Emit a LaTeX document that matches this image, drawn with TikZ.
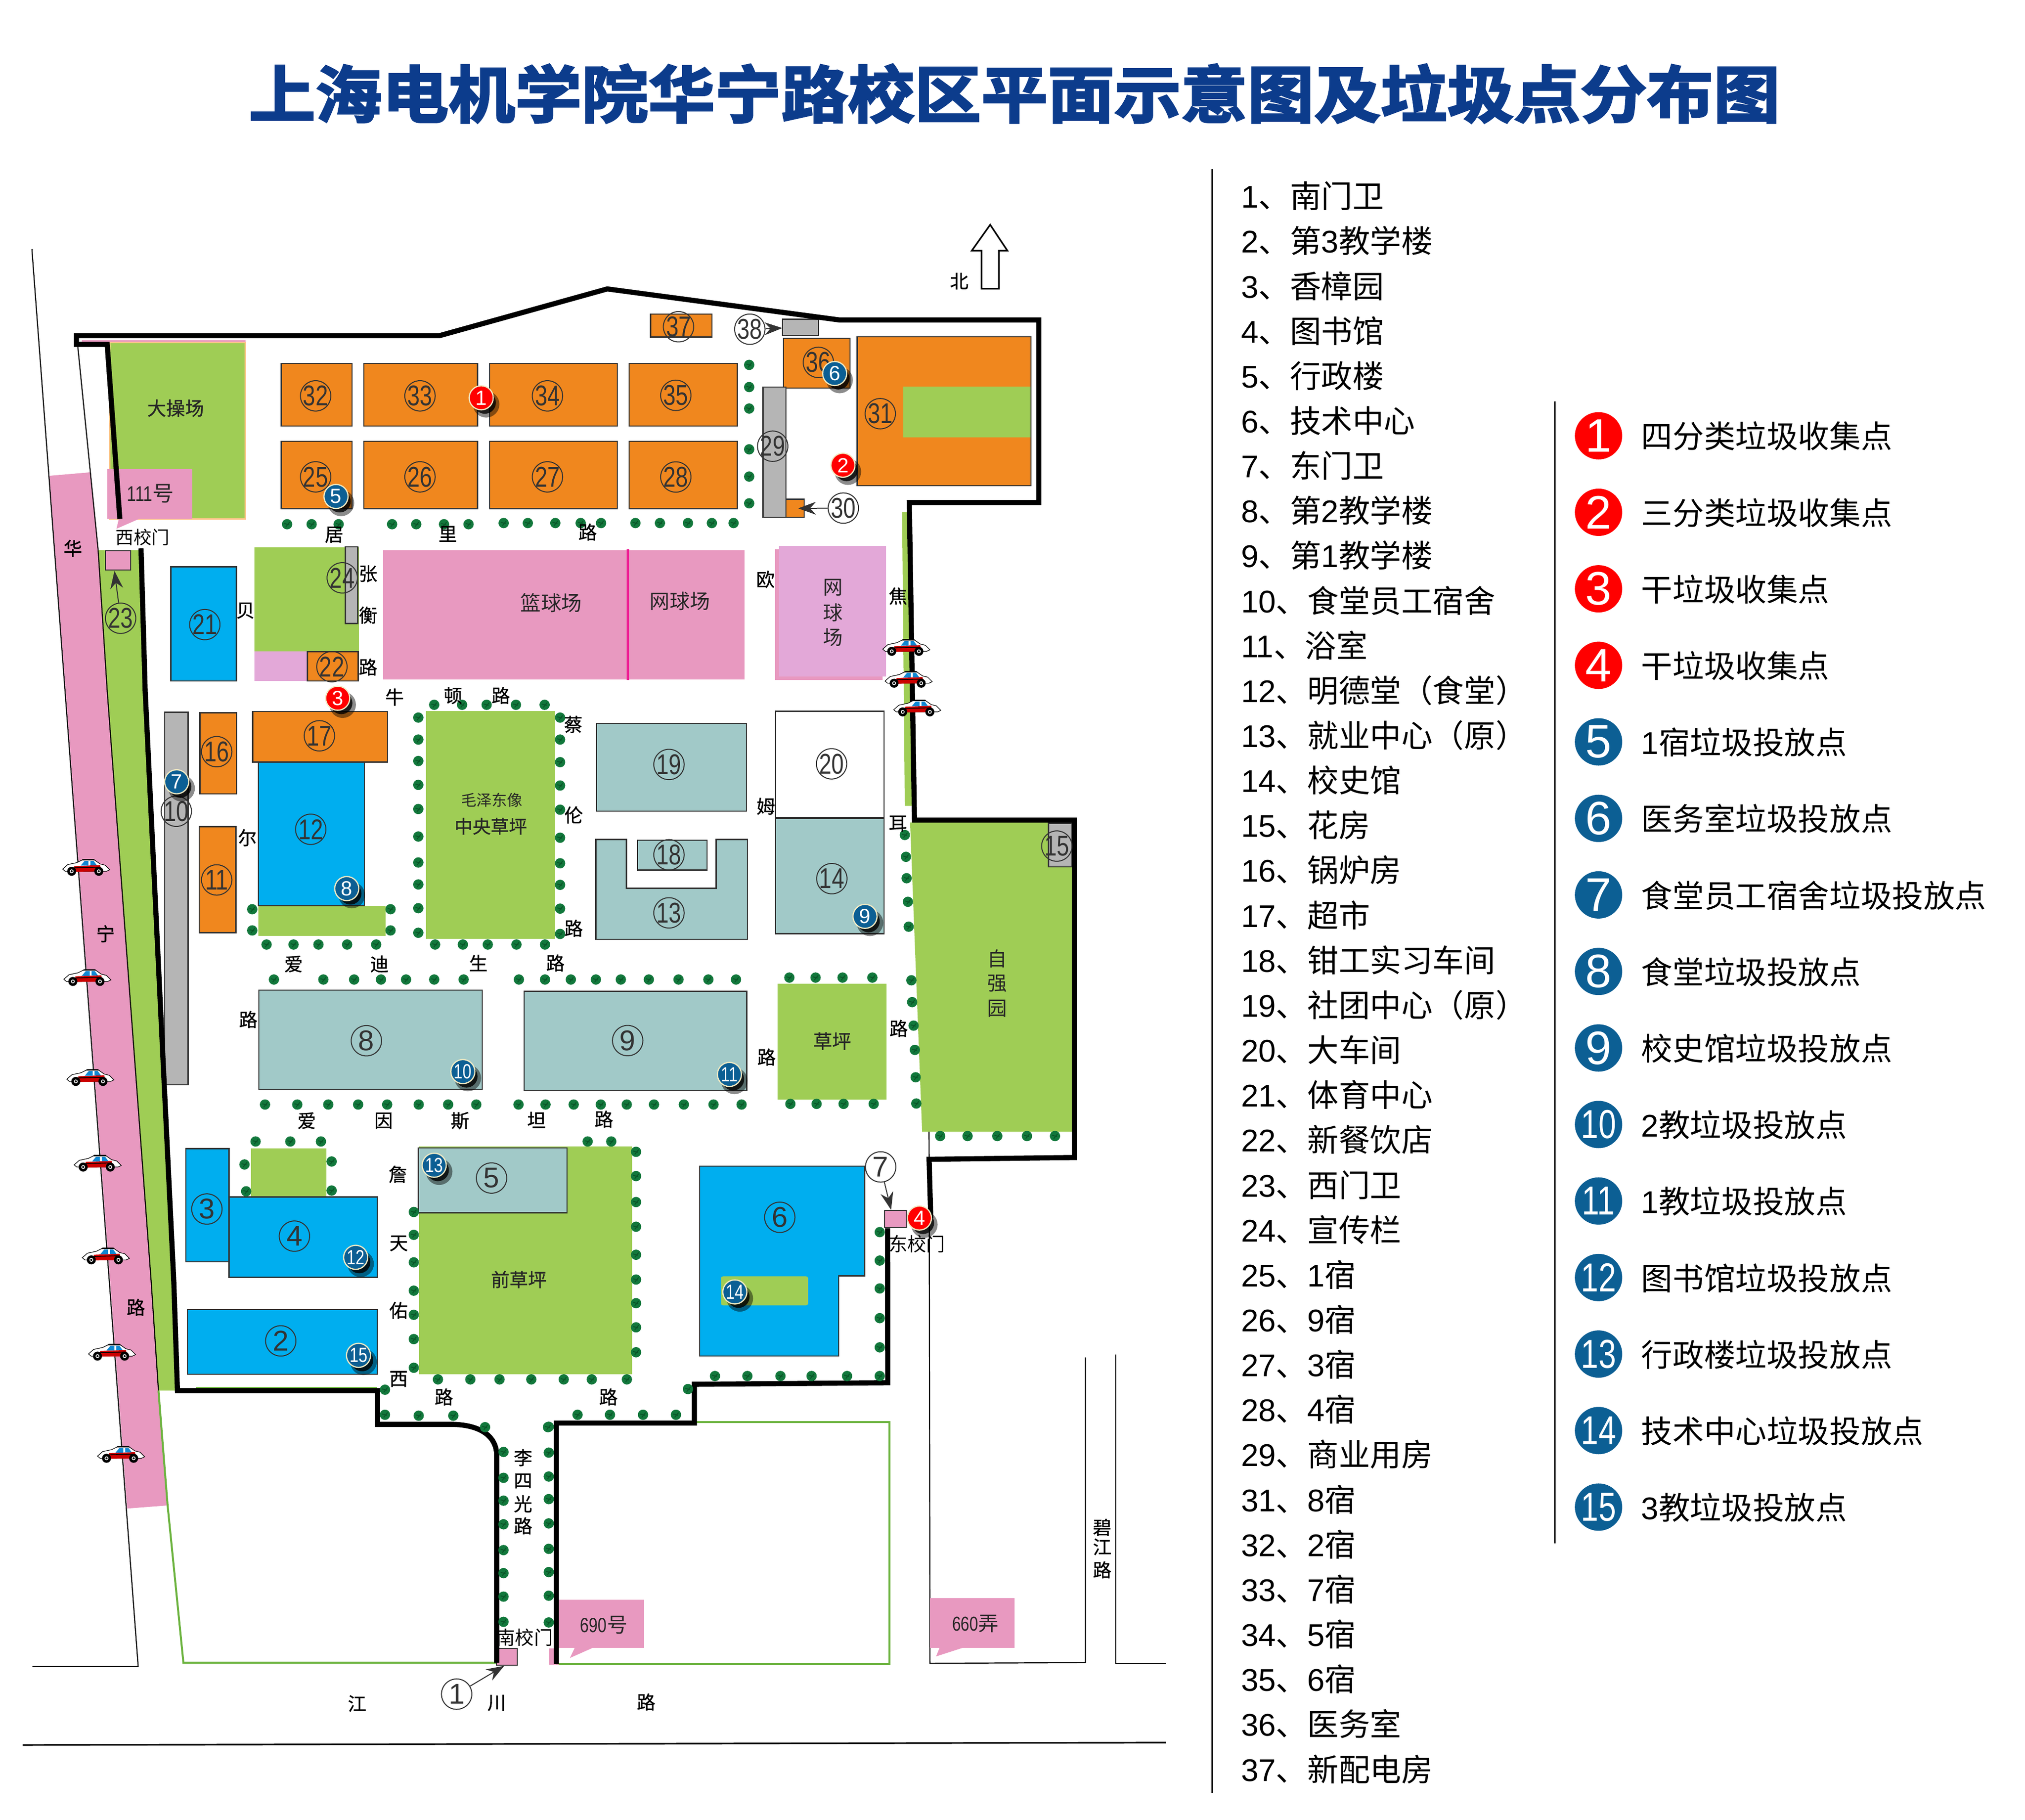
\documentclass[tikz,border=0pt]{standalone}
\usepackage{fontspec}
\usetikzlibrary{arrows.meta,shadows}
\setmainfont{Liberation Sans}
\newfontfamily\cjk{Noto Sans CJK SC}
\newfontfamily\roadfont[FakeBold=0.8]{Noto Sans CJK SC}
\newfontfamily\titlefont[FakeBold=3,FakeStretch=1.075]{Noto Sans CJK SC Bold}
\newfontfamily\latfont{Liberation Sans}
\newfontfamily\narrowfont[FakeStretch=0.78]{Liberation Sans}
\newcommand{\fs}[1]{\fontsize{#1}{#1}\selectfont}
\newcommand{\dg}[1]{{\latfont #1}}
\definecolor{orangeb}{HTML}{F0871E}
\definecolor{blueb}{HTML}{00AEEF}
\definecolor{lawn}{HTML}{9FCD55}
\definecolor{tealb}{HTML}{A1C9C8}
\definecolor{pinkb}{HTML}{E899C0}
\definecolor{lilac}{HTML}{E3A8D8}
\definecolor{grayb}{HTML}{B5B5B5}
\definecolor{edge}{HTML}{333333}
\definecolor{markblue}{HTML}{0C5F94}
\definecolor{cream}{HTML}{F2EBC4}
\definecolor{treeg}{HTML}{12783C}
\definecolor{treed}{HTML}{0A5528}
\definecolor{fence}{HTML}{6CB33F}
\definecolor{titleblue}{HTML}{0C3C8C}
\tikzset{
	orangeblock/.style={fill=orangeb,draw=edge,line width=.6pt},
	blueblock/.style={fill=blueb,draw=edge,line width=.6pt},
	tealblock/.style={fill=tealb,draw=edge,line width=.6pt},
	grayblock/.style={fill=grayb,draw=edge,line width=.6pt},
	wall/.style={line width=2.6pt,line join=miter},
	thinline/.style={line width=.55pt},
	fenceline/.style={draw=fence,line width=1pt},
	num/.style={circle,draw=edge,line width=.5pt,minimum size=15.4pt,inner sep=-3pt,text=edge,font=\latfont\fs{14.5pt}},
	numm/.style={num,font=\narrowfont\fs{14.5pt}},
	numw/.style={fill=white},
	bluedot/.style={circle,fill=markblue,draw=cream,line width=.6pt,minimum size=12.2pt,inner sep=-3pt,text=white,font=\latfont\fs{10.4pt},
		general shadow={fill=black,opacity=.45,shadow xshift=2.3pt,shadow yshift=-3pt,shadow scale=1.1},
		general shadow={fill=black,opacity=.8,shadow xshift=2pt,shadow yshift=-2.7pt,shadow scale=.92}},
	bluedott/.style={bluedot,font=\narrowfont\fs{10.4pt}},
	reddot/.style={bluedot,fill=red},
	lgdot/.style={circle,minimum size=24pt,inner sep=-4pt,text=white,font=\latfont\fs{23.8pt}},
	lgdott/.style={lgdot,font=\narrowfont\fs{20.5pt}},
	road/.style={inner sep=0pt,font=\roadfont\fs{9.4pt}},
	place/.style={inner sep=0pt,font=\cjk\fs{9.6pt},text=black!85},
	listitem/.style={anchor=base west,inner sep=0pt,font=\cjk\fs{15.9pt}},
	pointer/.style={draw=edge,line width=.5pt,-{Stealth[length=9pt,width=6.5pt]}},
	car/.pic={
		\draw[fill=white,line width=.3pt] (-18,1.5) -- (-14,-2) -- (-7,-3.5) -- (-2,-6) -- (6,-6) -- (11,-2.5) -- (15,-1.5) -- (18.5,2) -- (16,3.2) -- (-16,3.2) -- cycle;
		\fill[red!80!black] (-9,-.8) -- (11,-1.6) -- (12,3.3) -- (-10,3.6) -- cycle;
		\fill[black] (-9,.2) -- (11,-.3) -- (11,.3) -- (-9,.8) -- cycle;
		\fill[black] (-2.6,-6.2) -- (6.4,-6.2) -- (7.2,-5.2) -- (-3.4,-5.2) -- cycle;
		\fill[cyan!70!blue] (-4,-1.2) -- (-1,-4.8) -- (2,-4.8) -- (2,-1.2) -- cycle;
		\fill[cyan!70!blue] (3.5,-4.8) -- (6,-4.8) -- (8.5,-1.4) -- (3.5,-1.4) -- cycle;
		\foreach \wx in {-11,10} {
			\fill[black] (\wx,3.2) circle (3.5);
			\fill[white] (\wx,3.2) circle (1.5);
			\fill[black] (\wx,3.2) circle (.8);
		}
	},
}
\newcommand{\treeat}[2]{\fill[treeg] (#1,#2) circle (4); \draw[treed,line width=.45pt] (#1-2.2,#2-.6) -- (#1+1.6,#2+.4) (#1-1,#2+2) -- (#1+2,#2-1.7);}
\begin{document}
\begin{tikzpicture}[x=0.6548pt,y=-0.6548pt]
\useasboundingbox (0,0) rectangle (1568,1409);

\node[inner sep=0pt,text=titleblue,font=\titlefont\fs{31.4pt}] (title) at (785.5,72.5) {上海电机学院华宁路校区平面示意图及垃圾点分布图};

% roads outside the campus
\fill[pinkb] (38.3,368.4) -- (69.7,365.7) -- (76,426) -- (83,534.6) -- (117.1,992.8) -- (122.7,1076.7) -- (129.8,1165.6) -- (98.5,1168) -- cycle;
\fill[lawn] (76,426) -- (108.5,426) -- (112.4,534.6) -- (134.6,992.8) -- (137.4,1076.7) -- (122.7,1076.7) -- (117.1,992.8) -- (83,534.6) -- cycle;
\draw[thinline] (24.7,192.9) -- (107,1290.3) -- (25.1,1290.3);
\draw[thinline] (60.2,267.9) -- (76,426) -- (83,534.6) -- (117.1,992.8) -- (122.7,1076.7);
\draw[fenceline] (122.7,1076.7) -- (129.8,1165.6) -- (142,1287.3) -- (384.6,1287.3);
\draw[fenceline] (430.8,1288.5) -- (688.6,1288.5) -- (688.6,1101) -- (537.7,1101);
\draw[fenceline,line width=.5pt] (152,1074.5) -- (292,1074.5);
\draw[thinline] (719.4,876) -- (720.1,1287.8) -- (840.5,1287.3) -- (840.5,1051);
\draw[thinline] (863.9,1048.7) -- (863.9,1288) -- (903,1288);
\draw[thinline,line width=.8pt] (17.5,1351.1) -- (903,1349.2);

% north arrow
\draw[line width=.8pt] (760,223.5) -- (773.5,223.5) -- (773.5,194) -- (780,194) -- (766.7,174) -- (752.5,194) -- (760,194) -- cycle;

% lawns and courts
\fill[pinkb] (63.3,263.3) rectangle (190,266);
\draw[fill=lawn,draw=orange!45!white,line width=.6pt] (84.9,265.2) rectangle (190,401.8);
\fill[pinkb] (83,363) -- (148.8,363) -- (148.8,401.8) -- (107.6,401.8) -- (90.2,409.4) -- (92,401.8) -- (83,401.8) -- cycle;
\fill[lawn] (196.9,423.8) rectangle (278,504.5);
\fill[lilac] (196.9,504.5) rectangle (238,527.2);
\fill[pinkb] (296.7,426) rectangle (576.6,526);
\fill[magenta!85!pink] (485.3,425.3) rectangle (487,526.5);
\fill[pinkb] (600,425.3) rectangle (683.2,526.3);
\fill[lilac] (603.4,422.6) rectangle (685.9,523.9);
\fill[lawn] (698.5,396.4) -- (704.5,396.4) -- (707,624) -- (700.6,624) -- cycle;
\fill[lawn] (329.9,550.7) rectangle (430,726.9);
\fill[lawn] (200.1,701.2) rectangle (298.6,724.8);
\fill[lawn] (602,761.7) rectangle (686.5,851.2);
\fill[lawn] (704.7,636.9) -- (830,636.9) -- (830,876.1) -- (714,876.1) -- cycle;
\fill[lawn] (194.4,889.3) rectangle (252.7,926.7);
\fill[lawn] (324.5,887.6) rectangle (489.3,1064);

% buildings
\foreach \xa/\ya/\xb/\yb in {217.8/281.3/272.6/329.8,281.8/281.3/369.8/329.8,379/281.3/478/329.8,487.1/281.3/571/329.8,
	217.8/341.6/272.6/393.8,281.8/341.6/369.8/393.8,379/341.6/478/393.8,487.1/341.6/571/393.8,
	503.7/243.1/551.2/261,606.6/261.9/658.3/300.5,663.7/260.8/798.2/376,608.5/386.5/622.7/400.4,
	238/504.5/277.3/527.2,195.7/551/300.1/590.1,154.8/551.8/183.3/614.7,154.2/640.1/182.7/722.2}
	\draw[orangeblock] (\xa,\ya) rectangle (\xb,\yb);
\fill[lawn] (699.6,299.4) rectangle (797.9,338.5);
\foreach \xa/\ya/\xb/\yb in {132.3/438.8/183/527.2,200.1/590.1/282.1/701.2,144/889.3/177.3/977,177.3/926.7/292.2/989,145/1014.1/292.3/1064}
	\draw[blueblock] (\xa,\ya) rectangle (\xb,\yb);
\draw[blueblock] (541.7,903) -- (669.5,903) -- (669.5,987.8) -- (649.3,987.8) -- (649.3,1049.9) -- (541.7,1049.9) -- cycle;
\fill[lawn,rounded corners=1pt] (558.3,988.2) rectangle (625.7,1010.7);
\foreach \xa/\ya/\xb/\yb in {200.4/766.6/373.3/843.5,405.9/767.6/578.2/844.5,462/560/578/628,600.5/633.7/684.6/722.9,493.6/650.6/547.4/673.6,323.9/888.8/439.1/939}
	\draw[tealblock] (\xa,\ya) rectangle (\xb,\yb);
\draw[tealblock] (461.4,650) -- (485,650) -- (485,687.8) -- (554.6,687.8) -- (554.6,650) -- (578.8,650) -- (578.8,727.2) -- (461.4,727.2) -- cycle;
\draw[draw=edge,line width=.6pt,fill=white] (600.5,550.7) rectangle (684.6,633.1);
\foreach \xa/\ya/\xb/\yb in {605.8/247.2/633.7/259.5,590.8/299.7/608.5/400.4,267.5/423.3/277/482.8,127.6/551.5/145.6/840,811.8/637.4/830/671.2}
	\draw[grayblock] (\xa,\ya) rectangle (\xb,\yb);

% gates and house numbers
\foreach \xa/\ya/\xb/\yb in {81.7/426.5/101.3/441.2,685.1/937.2/702/950.3,384.6/1276.4/400.4/1289.3}
	\draw[fill=pinkb,draw=edge,line width=.5pt] (\xa,\ya) rectangle (\xb,\yb);
\fill[pinkb] (432.5,1238.6) -- (498.6,1238.6) -- (498.6,1275.9) -- (458.8,1275.9) -- (441.3,1283.7) -- (445,1275.9) -- (432.5,1275.9) -- cycle;
\fill[pinkb] (425,1276.4) rectangle (432.5,1289);
\fill[pinkb] (720.1,1237.4) -- (785.6,1237.4) -- (785.6,1275.9) -- (745.2,1275.9) -- (724.8,1282.5) -- (727.5,1275.9) -- (720.1,1275.9) -- cycle;

% campus wall
\draw[wall] (109.2,424.6) -- (112.4,534.6) -- (134.6,992.8) -- (137.4,1076.7) -- (292.3,1076.7) -- (292.3,1102.8) -- (349.3,1102.8) .. controls (372,1103) and (384.6,1112) .. (384.6,1127) -- (384.6,1287.3);
\draw[wall] (430.8,1288.5) -- (430.8,1101.8) -- (537.7,1101.8) -- (537.7,1071.8) -- (687.4,1070.6) -- (687.3,951.1);
\draw[wall] (720.7,943.1) -- (719.4,897.6) -- (831.9,896.2) -- (831.9,635) -- (708.1,635) -- (704.1,389.1) -- (804.3,389.1) -- (804.3,247.7) -- (649.8,247.7) -- (470.2,223.7) -- (340.3,259.9) -- (59.2,259.9) -- (59.2,266.6) -- (83,266.6) -- (92.8,401.8);

% trees
\foreach \ty/\xlist in {405.9/{222.3,241.3,262.2,303.6,322.3,343.8,362.8},405/{390,408.7,430,449.6,465.4,492,511,532.7,551.2,568},
	545.7/{336.2,357.8,376.8,399.5,421.7},731.3/{336.9,358.4,377.7,399.9,422,206.4,227.3,246.6,268.8,291.3},
	758.4/{212.1,250.4,274.2,295,314.4,336.2,359,401.8,422,442,461.4,480.7,502.4,525.4,548.5,569.9},
	855.2/{205.2,230.2,254.2,277.3,299.8,324.2,347,368.8,401.5,422.4,444.2,465.2,485.3,506.4,529.5,552.5,574.2},
	756.9/{611.2,631.5,652.4,675.5},854.7/{612,632.3,653.2,676.5},879.6/{728,749.2,772.2,795.2,816.9},
	883.8/{197.9,224.8,248.5,455,473.3},1068/{339.1,364.2,386.8,411.4,436.5,458.2,485.4},1096.1/{324.2,351},
	1095.4/{298.1,447.2,472.3,497.9,523.4},1065.4/{553.6,578.7,604.3,628.4,655.9,681.2}}
	\foreach \tx in \xlist { \treeat{\tx}{\ty} };
\foreach \tx/\ylist in {580.1/{282.5,299.7,316.3,347.9,369,389.7},323.9/{555.6,572.6,589.2,607.7,626.4,647.7,667.8,684.8,703.2,722.2},
	433.7/{555.6,572.6,590.1,608.2,626.9,648.6,668.4,685.1,703.5,723.1},195.3/{704,720.4},302.4/{704,720.4},
	492.5/{891.8,910.6,930.7,949.8,971.5,990.7,1009,1027.7,1047},320.4/{938.4,956.1,977.4,999.3,1018,1036.8,1059},
	681.2/{954,976,997.6,1020.6,1043.2},389.9/{1124.2,1144.2,1161.9,1180.2,1200.2,1218,1236.2,1255.7},
	424.9/{1104.7,1124.7,1143.2,1160.7,1179.5,1199.2,1217.2,1235.5,1256.2}}
	\foreach \ty in \ylist { \treeat{\tx}{\ty} };
\foreach \tx/\ty in {189.3/901.6,190.6/922.4,256.8/899.3,256.8/921.8,700.6/646.5,701.5/663.4,702/680,703/698.2,703.6/717.5,705.7/759,706.3/775.9,707.4/794.1,708.4/812.9,709/834.1,709.5/854.4,375.6/1105,424.3/1105,532.7/1075.5,298.1/1076}
	{ \treeat{\tx}{\ty} };

% cars
\foreach \xa/\ya in {701.5/501.1,703.3/525.8,710/548,66.5/671.4,67.4/756.7,69.7/834.1,75.4/900.4,81.7/972.3,86.5/1046.8,93.5/1125.9}
	\pic at (\xa,\ya) {car};

% road names
\foreach \xa/\ya/\txt [count=\k] in {56.4/424.6/华,81.7/723/宁,105.2/1012.2/路,
	258.7/414/居,346.7/413.4/里,455/412/路,190/472.8/贝,285/444.2/张,285/476.3/衡,285/516.5/路,
	592.7/448.6/欧,695.3/461.5/焦,593/624.3/姆,695.3/637.7/耳,593.5/818.5/路,695.8/796.3/路,
	305.5/539.8/牛,350.8/538.5/顿,387.8/538.5/路,443.9/560.9/蔡,444.2/631/伦,444.2/718.7/路,191.5/648.6/尔,
	227.3/746.4/爱,293.8/746.4/迪,370.4/745.6/生,430/745.6/路,192.2/789.4/路,
	237.5/867.7/爱,297/867.7/因,356.2/867.7/斯,415.4/867.1/坦,467.6/866.5/路,
	308/909.2/詹,308.7/962.7/天,308.6/1014.6/佑,308.6/1067.7/西,343.7/1081.6/路,471.1/1081.6/路,
	405/1128.6/李,405/1146.6/四,405/1164.4/光,405/1181.4/路,
	853.4/1182.6/碧,853.4/1197.7/江,853.4/1215.5/路,276.5/1319/江,384.6/1318.5/川,500.3/1317.8/路}
	\node[road] (rd\k) at (\xa,\ya) {\txt};

% place names
\node[place,font=\roadfont\fs{9.6pt}] (pl1) at (136,316) {大操场};
\node[place,font=\cjk\fs{10.8pt}] (pl2) at (116.5,382.3) {{\narrowfont 111}号};
\node[place,text=black,font=\cjk\fs{9.1pt}] (pl3) at (110.5,415.8) {西校门};
\node[place,font=\cjk\fs{10.4pt}] (pl4) at (426.8,466.7) {篮球场};
\node[place,font=\cjk\fs{10.2pt}] (pl5) at (526.5,465.5) {网球场};
\node[place,font=\cjk\fs{10pt}] (pl6a) at (645,454.8) {网};
\node[place,font=\cjk\fs{10pt}] (pl6b) at (645,474.3) {球};
\node[place,font=\cjk\fs{10pt}] (pl6c) at (645,493.6) {场};
\node[place,font=\cjk\fs{7.8pt}] (pl7) at (380.9,619.3) {毛泽东像};
\node[place,font=\roadfont\fs{9.2pt}] (pl8) at (380,639.8) {中央草坪};
\node[place,font=\roadfont\fs{9.6pt}] (pl9) at (644.4,806) {草坪};
\node[place,font=\cjk\fs{10pt}] (pl10a) at (772.2,742.2) {自};
\node[place,font=\cjk\fs{10pt}] (pl10b) at (772.2,761.5) {强};
\node[place,font=\cjk\fs{10pt}] (pl10c) at (772.2,781) {园};
\node[place,font=\roadfont\fs{9.4pt}] (pl11) at (401.7,990.7) {前草坪};
\node[place,text=black] (pl12) at (710,963.2) {东校门};
\node[place,text=black] (pl13) at (406.2,1267.9) {南校门};
\node[place,font=\cjk\fs{10.4pt}] (pl14) at (467.6,1258) {{\narrowfont 690}号};
\node[place,font=\cjk\fs{10.2pt}] (pl15) at (755.2,1257) {{\narrowfont 660}弄};
\node[place,text=black,font=\roadfont\fs{9.4pt}] (north) at (742.7,217.7) {北};

% circled numbers
\foreach \k/\xa/\ya in {8/283.7/805.8,9/486/805.7,3/160.2/936.1,4/228/957.1,5/380.6/912.1,2/217.4/1038.2,6/603.8/942.5}
	\node[num] (n\k) at (\xa,\ya) {\k};
\foreach \k/\xa/\ya in {32/244.4/306.5,33/325.2/306.5,34/423.9/306.5,35/523.3/306.1,25/244.4/369.2,26/325.2/369.2,27/423.9/369.2,28/523.3/369.3,
	37/525.4/253,36/633.7/280.6,31/681.6/320.3,29/598.3/345.5,21/158.6/483.6,22/257/516.2,24/265/447.4,23/93.4/478.7,
	17/247.3/569.7,12/240.6/642.1,16/167.8/582,11/167.8/681.3,10/136.5/628.1,20/643.9/591.4,14/644.1/680.3,19/518/591.9,13/518/706.8,18/518/661.8,15/818.3/655.1}
	\node[numm] (n\k) at (\xa,\ya) {\k};
\node[numm,numw] (n38) at (580.6,254.9) {38};
\node[numm,numw] (n30) at (653,393.4) {30};
\node[num,numw] (n7) at (681.9,903.5) {7};
\node[num,numw] (n1) at (353.6,1311.7) {1};

% pointers to the gates
\coordinate (gatewest) at (88.6,442);
\coordinate (gateeast) at (690,936.8);
\coordinate (gatesouth) at (390.4,1289.8);
\coordinate (depot) at (605.8,254);
\coordinate (shop) at (618,393.6);
\draw[pointer] (n23) -- (gatewest);
\draw[pointer] (n7) -- (gateeast);
\draw[pointer] (n1) -- (gatesouth);
\draw[pointer] (n38) -- (depot);
\draw[pointer] (n30) -- (shop);

% bin markers on the map
\foreach \k/\xa/\ya in {1/372.6/308,2/652.7/360.2,3/261.5/540.6,4/711.9/943.1}
	\node[reddot] (r\k) at (\xa,\ya) {\k};
\foreach \k/\xa/\ya in {5/260.2/384.4,6/646.3/289.2,7/136.8/605.3,8/268.5/688,9/669.8/709.5}
	\node[bluedot] (m\k) at (\xa,\ya) {\k};
\foreach \k/\xa/\ya in {10/358.4/829.7,11/564.8/831.9,12/275.4/973.5,13/336.2/902.2,14/569/1000.3,15/277.6/1049.4}
	\node[bluedott] (m\k) at (\xa,\ya) {\k};

% building list
\draw[thinline,line width=.8pt] (938.5,131) -- (938.5,1388);
\foreach \k/\txt [count=\row from 0] in {1/南门卫,2/第\dg{3}教学楼,3/香樟园,4/图书馆,5/行政楼,6/技术中心,7/东门卫,8/第\dg{2}教学楼,9/第\dg{1}教学楼,
	10/食堂员工宿舍,11/浴室,12/明德堂（食堂）,13/就业中心（原）,14/校史馆,15/花房,16/锅炉房,17/超市,18/钳工实习车间,19/社团中心（原）,20/大车间,
	21/体育中心,22/新餐饮店,23/西门卫,24/宣传栏,25/\dg{1}宿,26/\dg{9}宿,27/\dg{3}宿,28/\dg{4}宿,29/商业用房,31/\dg{8}宿,32/\dg{2}宿,33/\dg{7}宿,
	34/\dg{5}宿,35/\dg{6}宿,36/医务室,37/新配电房}
	\node[listitem] (item\k) at (960.7,{161+34.8*\row}) {\dg{\k}、\txt};

% legend
\draw[thinline,line width=.8pt] (1204,310.6) -- (1204,1195);
\foreach \k/\txt [count=\row from 0] in {1/四分类垃圾收集点,2/三分类垃圾收集点,3/干垃圾收集点,4/干垃圾收集点}
	{ \node[lgdot,fill=red] (lg\k) at (1237.8,{337.4+59.25*\row}) {\k};
	\node[listitem] (lgt\k) at (1270.6,{347+59.25*\row}) {\txt}; }
\foreach \k/\txt [count=\row from 4] in {5/\dg{1}宿垃圾投放点,6/医务室垃圾投放点,7/食堂员工宿舍垃圾投放点,8/食堂垃圾投放点,9/校史馆垃圾投放点}
	{ \node[lgdot,fill=markblue] (lg\k) at (1237.8,{337.4+59.25*\row}) {\k};
	\node[listitem] (lgt\k) at (1270.6,{347+59.25*\row}) {\txt}; }
\foreach \k/\txt [count=\row from 9] in {10/\dg{2}教垃圾投放点,11/\dg{1}教垃圾投放点,12/图书馆垃圾投放点,13/行政楼垃圾投放点,14/技术中心垃圾投放点,15/\dg{3}教垃圾投放点}
	{ \node[lgdott,fill=markblue] (lg\k) at (1237.8,{337.4+59.25*\row}) {\k};
	\node[listitem] (lgt\k) at (1270.6,{347+59.25*\row}) {\txt}; }
\end{tikzpicture}
\end{document}
